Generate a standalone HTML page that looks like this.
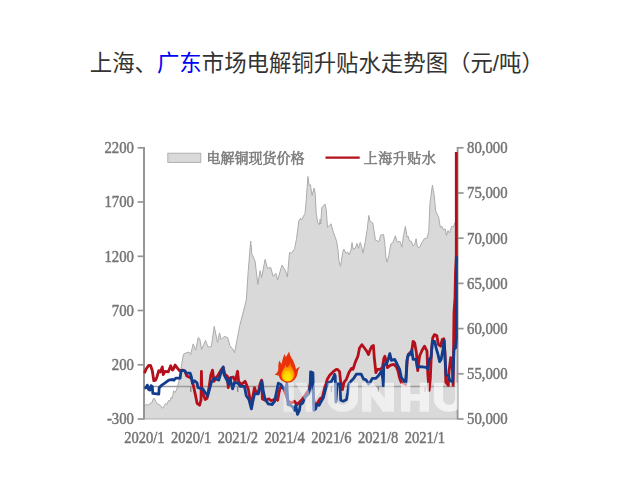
<!DOCTYPE html>
<html><head><meta charset="utf-8"><title>chart</title>
<style>
html,body{margin:0;padding:0;background:#fff;}
body{width:638px;height:489px;overflow:hidden;position:relative;font-family:"Liberation Sans",sans-serif;}
svg{position:absolute;left:0;top:0;}
.lab{font-family:"Liberation Serif",serif;font-size:15.8px;fill:#747474;stroke:#747474;stroke-width:0.45px;}
#chart{filter:blur(0.6px);}
</style></head><body>
<svg width="638" height="489" viewBox="0 0 638 489">
<defs><linearGradient id="wm" x1="0" y1="0" x2="1" y2="0"><stop offset="0" stop-color="#fff" stop-opacity="0.45"/><stop offset="0.45" stop-color="#fff" stop-opacity="0.55"/><stop offset="1" stop-color="#fff" stop-opacity="0.68"/></linearGradient><radialGradient id="fg" cx="0.48" cy="0.74" r="0.62" fx="0.48" fy="0.78"><stop offset="0" stop-color="#ffec00"/><stop offset="0.38" stop-color="#ffd800"/><stop offset="0.75" stop-color="#ff9800"/><stop offset="1" stop-color="#fa6a00"/></radialGradient><clipPath id="plotclip"><rect x="144" y="140" width="313" height="280"/></clipPath></defs>
<g id="title"><text x="89.8" y="71" font-size="22.4" fill="#333333" style="font-family:'Liberation Sans','Noto Sans CJK SC',sans-serif;">上海、<tspan fill="#0000f5">广东</tspan>市场电解铜升贴水走势图（元/吨）</text></g>
<g id="chart">
<polygon points="144.0,419.0 144.5,405.4 146.9,404.5 148.6,405.2 150.0,403.3 151.9,402.7 153.2,398.9 154.4,398.3 155.7,401.4 157.6,403.9 160.1,405.2 162.6,408.3 164.5,405.2 165.7,403.5 167.0,404.5 168.6,400.2 169.8,401.4 171.3,397.0 172.4,398.3 173.6,390.8 174.9,392.6 176.4,390.1 177.6,386.4 178.9,381.3 179.9,375.1 181.4,366.3 183.3,355.0 184.0,353.7 189.0,352.0 190.7,354.5 193.2,343.9 195.7,350.2 198.2,337.6 199.8,338.9 201.6,349.5 205.5,340.4 207.9,347.0 211.4,346.6 214.2,326.3 217.6,342.6 219.5,332.9 221.1,339.5 224.2,336.4 227.7,337.6 229.9,345.8 232.7,348.9 234.6,352.7 239.6,326.3 246.3,300.0 248.2,271.3 250.7,241.0 251.9,253.8 255.1,261.3 257.8,284.5 260.1,270.7 261.6,277.6 265.1,259.4 267.4,268.2 270.7,267.6 273.2,276.4 275.8,273.2 277.6,280.1 282.0,265.1 285.2,270.1 287.4,277.0 289.5,252.5 291.4,253.2 294.6,248.8 296.5,238.7 298.9,220.7 300.5,218.3 301.4,220.0 305.0,213.4 306.3,199.4 307.9,176.5 309.2,185.5 310.4,184.7 312.0,195.4 314.1,188.0 315.3,194.5 316.1,212.5 317.7,222.4 319.4,224.8 320.2,219.1 320.7,224.0 321.8,207.6 325.1,204.0 326.2,209.3 327.5,227.2 331.1,223.8 333.3,232.0 336.5,240.9 338.1,250.7 338.9,260.5 340.5,266.3 342.7,252.4 343.8,249.1 345.9,253.2 347.6,252.0 349.2,254.8 351.2,249.1 352.0,242.5 353.1,249.1 355.3,248.3 356.9,243.4 358.5,248.3 360.2,242.5 361.8,247.4 363.0,253.2 365.1,242.5 367.2,229.4 368.8,215.5 370.0,221.3 372.8,222.9 374.1,231.1 375.4,240.1 379.0,241.7 380.6,235.2 383.6,234.4 384.7,242.5 385.9,257.3 387.2,262.2 388.8,255.6 390.8,244.2 392.9,242.5 395.4,235.7 397.2,242.2 400.0,241.4 401.8,247.1 403.7,234.5 405.4,226.4 407.1,237.1 408.2,236.3 409.5,241.2 411.2,241.2 413.1,246.1 414.8,244.4 416.1,238.7 417.4,246.9 419.4,247.7 421.8,242.8 424.3,238.7 427.2,237.9 428.8,230.5 430.0,202.7 432.4,185.1 434.1,194.5 435.7,210.9 438.7,217.4 440.3,227.3 441.9,226.4 443.6,229.7 445.2,228.9 446.4,235.4 448.0,230.5 449.6,233.0 451.7,226.4 453.7,226.4 455.0,222.4 457.3,222.4 457.6,419.0" fill="#d9d9d9" stroke="none"/>
<polyline points="144.5,405.4 146.9,404.5 148.6,405.2 150.0,403.3 151.9,402.7 153.2,398.9 154.4,398.3 155.7,401.4 157.6,403.9 160.1,405.2 162.6,408.3 164.5,405.2 165.7,403.5 167.0,404.5 168.6,400.2 169.8,401.4 171.3,397.0 172.4,398.3 173.6,390.8 174.9,392.6 176.4,390.1 177.6,386.4 178.9,381.3 179.9,375.1 181.4,366.3 183.3,355.0 184.0,353.7 189.0,352.0 190.7,354.5 193.2,343.9 195.7,350.2 198.2,337.6 199.8,338.9 201.6,349.5 205.5,340.4 207.9,347.0 211.4,346.6 214.2,326.3 217.6,342.6 219.5,332.9 221.1,339.5 224.2,336.4 227.7,337.6 229.9,345.8 232.7,348.9 234.6,352.7 239.6,326.3 246.3,300.0 248.2,271.3 250.7,241.0 251.9,253.8 255.1,261.3 257.8,284.5 260.1,270.7 261.6,277.6 265.1,259.4 267.4,268.2 270.7,267.6 273.2,276.4 275.8,273.2 277.6,280.1 282.0,265.1 285.2,270.1 287.4,277.0 289.5,252.5 291.4,253.2 294.6,248.8 296.5,238.7 298.9,220.7 300.5,218.3 301.4,220.0 305.0,213.4 306.3,199.4 307.9,176.5 309.2,185.5 310.4,184.7 312.0,195.4 314.1,188.0 315.3,194.5 316.1,212.5 317.7,222.4 319.4,224.8 320.2,219.1 320.7,224.0 321.8,207.6 325.1,204.0 326.2,209.3 327.5,227.2 331.1,223.8 333.3,232.0 336.5,240.9 338.1,250.7 338.9,260.5 340.5,266.3 342.7,252.4 343.8,249.1 345.9,253.2 347.6,252.0 349.2,254.8 351.2,249.1 352.0,242.5 353.1,249.1 355.3,248.3 356.9,243.4 358.5,248.3 360.2,242.5 361.8,247.4 363.0,253.2 365.1,242.5 367.2,229.4 368.8,215.5 370.0,221.3 372.8,222.9 374.1,231.1 375.4,240.1 379.0,241.7 380.6,235.2 383.6,234.4 384.7,242.5 385.9,257.3 387.2,262.2 388.8,255.6 390.8,244.2 392.9,242.5 395.4,235.7 397.2,242.2 400.0,241.4 401.8,247.1 403.7,234.5 405.4,226.4 407.1,237.1 408.2,236.3 409.5,241.2 411.2,241.2 413.1,246.1 414.8,244.4 416.1,238.7 417.4,246.9 419.4,247.7 421.8,242.8 424.3,238.7 427.2,237.9 428.8,230.5 430.0,202.7 432.4,185.1 434.1,194.5 435.7,210.9 438.7,217.4 440.3,227.3 441.9,226.4 443.6,229.7 445.2,228.9 446.4,235.4 448.0,230.5 449.6,233.0 451.7,226.4 453.7,226.4 455.0,222.4 457.3,222.4" fill="none" stroke="#ababab" stroke-width="1.0" stroke-linejoin="round"/>
<path d="M144.0 386.5H457.6" stroke="#9c9c9c" stroke-width="1.6" fill="none"/>
<path d="M190.8 386.5v5.6" stroke="#858585" stroke-width="1.3" fill="none"/>
<path d="M237.7 386.5v5.6" stroke="#858585" stroke-width="1.3" fill="none"/>
<path d="M284.6 386.5v5.6" stroke="#858585" stroke-width="1.3" fill="none"/>
<path d="M331.4 386.5v5.6" stroke="#858585" stroke-width="1.3" fill="none"/>
<path d="M378.2 386.5v5.6" stroke="#858585" stroke-width="1.3" fill="none"/>
<path d="M425.1 386.5v5.6" stroke="#858585" stroke-width="1.3" fill="none"/>
<path d="M144.0 419.0H457.6" stroke="#b2b2b2" stroke-width="1.1" fill="none"/>
<path d="M144.0 147.0V419.5" stroke="#959595" stroke-width="2.0" fill="none"/>
<path d="M457.6 147.0V419.5" stroke="#959595" stroke-width="1.8" fill="none"/>
<path d="M144.0 147.8h-6.4" stroke="#959595" stroke-width="1.7"/>
<text transform="translate(134.0,153.1) scale(0.935,1)" text-anchor="end" class="lab">2200</text>
<path d="M144.0 202.0h-6.4" stroke="#959595" stroke-width="1.7"/>
<text transform="translate(134.0,207.3) scale(0.935,1)" text-anchor="end" class="lab">1700</text>
<path d="M144.0 256.3h-6.4" stroke="#959595" stroke-width="1.7"/>
<text transform="translate(134.0,261.6) scale(0.935,1)" text-anchor="end" class="lab">1200</text>
<path d="M144.0 310.5h-6.4" stroke="#959595" stroke-width="1.7"/>
<text transform="translate(134.0,315.8) scale(0.935,1)" text-anchor="end" class="lab">700</text>
<path d="M144.0 364.8h-6.4" stroke="#959595" stroke-width="1.7"/>
<text transform="translate(134.0,370.1) scale(0.935,1)" text-anchor="end" class="lab">200</text>
<path d="M144.0 419.0h-6.4" stroke="#959595" stroke-width="1.7"/>
<text transform="translate(134.0,424.3) scale(0.935,1)" text-anchor="end" class="lab">-300</text>
<path d="M457.6 147.8h6" stroke="#959595" stroke-width="1.7"/>
<text transform="translate(467.0,153.1) scale(0.935,1)" class="lab">80,000</text>
<path d="M457.6 193.0h6" stroke="#959595" stroke-width="1.7"/>
<text transform="translate(467.0,198.3) scale(0.935,1)" class="lab">75,000</text>
<path d="M457.6 238.2h6" stroke="#959595" stroke-width="1.7"/>
<text transform="translate(467.0,243.5) scale(0.935,1)" class="lab">70,000</text>
<path d="M457.6 283.4h6" stroke="#959595" stroke-width="1.7"/>
<text transform="translate(467.0,288.7) scale(0.935,1)" class="lab">65,000</text>
<path d="M457.6 328.6h6" stroke="#959595" stroke-width="1.7"/>
<text transform="translate(467.0,333.9) scale(0.935,1)" class="lab">60,000</text>
<path d="M457.6 373.8h6" stroke="#959595" stroke-width="1.7"/>
<text transform="translate(467.0,379.1) scale(0.935,1)" class="lab">55,000</text>
<path d="M457.6 419.0h6" stroke="#959595" stroke-width="1.7"/>
<text transform="translate(467.0,424.3) scale(0.935,1)" class="lab">50,000</text>
<text transform="translate(144.4,443.0) scale(0.921,1)" text-anchor="middle" class="lab">2020/1</text>
<text transform="translate(191.2,443.0) scale(0.921,1)" text-anchor="middle" class="lab">2020/1</text>
<text transform="translate(237.9,443.0) scale(0.921,1)" text-anchor="middle" class="lab">2021/2</text>
<text transform="translate(284.6,443.0) scale(0.921,1)" text-anchor="middle" class="lab">2021/4</text>
<text transform="translate(331.4,443.0) scale(0.921,1)" text-anchor="middle" class="lab">2021/6</text>
<text transform="translate(378.1,443.0) scale(0.921,1)" text-anchor="middle" class="lab">2021/8</text>
<text transform="translate(424.9,443.0) scale(0.921,1)" text-anchor="middle" class="lab">2021/1</text>
<polyline points="144.4,373.2 146.3,368.8 148.8,365.3 150.7,365.7 152.3,370.7 153.8,380.7 155.7,380.1 156.9,377.0 158.8,370.7 160.3,371.9 162.3,366.9 163.2,374.5 165.1,371.3 168.2,371.9 170.7,365.7 172.4,370.1 173.6,368.8 175.1,365.0 177.0,367.6 179.5,370.7 182.6,370.1 185.1,371.3 186.6,375.7 188.9,377.0 191.4,378.2 193.3,385.1 195.2,393.9 197.1,403.3 199.6,405.2 201.0,400.2 201.4,371.3 201.9,391.0 205.2,399.5 207.1,398.3 209.0,387.6 210.8,375.1 212.5,370.1 214.0,381.3 216.5,377.0 217.5,376.3 220.6,370.7 223.2,367.5 225.0,374.5 227.5,376.3 228.2,387.6 230.7,377.6 233.2,377.0 235.1,381.3 237.6,371.3 238.6,381.3 241.3,384.5 245.1,381.3 248.2,388.9 250.7,402.7 252.6,397.7 254.5,387.6 255.8,391.4 258.3,392.6 260.1,383.9 261.6,380.1 262.4,398.9 265.2,400.2 268.9,398.9 271.4,400.8 275.2,398.9 277.7,400.2 279.0,392.6 280.2,387.6 283.3,387.6 285.0,392.0 288.0,401.0 291.3,403.0 294.5,401.3 297.0,404.6 299.4,402.2 302.7,398.9 306.0,394.0 309.3,389.1 311.7,376.0 312.9,387.4 314.2,405.4 317.4,403.0 319.9,398.9 322.4,397.3 324.8,387.4 327.3,379.3 329.7,375.2 333.0,371.9 336.3,369.4 337.5,369.3 339.6,371.7 340.7,382.4 342.4,389.7 344.0,382.4 346.5,379.1 348.9,372.5 351.4,368.4 353.0,369.2 355.4,361.9 357.9,356.2 359.5,348.0 362.0,344.7 364.4,348.0 366.9,351.3 368.5,354.5 370.2,349.6 371.8,346.4 373.4,345.5 374.3,357.8 375.9,372.5 377.5,369.3 380.0,369.3 382.4,367.6 383.8,358.6 384.9,356.2 386.0,361.1 387.4,367.6 390.6,365.2 393.9,364.4 396.3,366.8 398.0,370.9 399.6,378.3 401.3,382.4 404.5,383.5 405.7,384.6 407.4,357.6 409.8,352.7 411.8,351.0 413.1,341.3 414.7,342.9 416.4,352.7 417.7,370.7 419.6,356.0 422.1,350.3 424.5,346.2 427.0,351.1 427.8,374.0 429.1,390.3 430.3,378.9 431.4,352.7 432.7,338.0 434.4,334.7 436.8,335.5 438.4,344.5 440.6,346.2 442.2,339.6 443.8,338.8 445.0,352.7 445.8,382.2 448.3,385.4 449.1,370.7 450.7,357.6 452.4,369.1 453.2,385.4 453.6,345.0 454.0,312.0 455.0,298.0 455.5,272.0 456.3,256.0 456.3,152.0" fill="none" stroke="#b40f1a" stroke-width="2.8" stroke-linejoin="round" stroke-linecap="butt"/>
<polyline points="144.4,388.2 146.0,387.6 147.3,385.1 148.5,389.5 150.0,390.1 151.0,385.7 152.3,386.4 152.8,393.3 158.8,394.1 159.2,387.6 161.9,385.1 165.1,382.9 168.8,380.1 172.6,379.5 174.0,380.2 175.7,378.2 180.1,378.2 181.1,370.7 184.5,370.7 186.4,373.2 190.2,373.2 191.4,377.0 192.4,383.2 194.5,380.7 197.1,382.9 197.9,387.6 202.7,388.9 205.2,392.6 207.7,395.8 209.6,388.9 211.5,382.0 214.0,378.2 217.1,379.5 218.8,380.1 220.6,373.8 223.2,366.9 224.0,374.5 227.5,381.3 228.5,383.9 230.0,378.2 232.6,388.9 234.4,382.6 238.2,383.2 240.1,386.4 244.5,386.4 246.3,395.8 248.9,399.5 251.4,408.9 252.6,402.7 254.5,393.9 258.3,393.9 260.1,387.6 262.0,381.3 263.3,391.4 265.2,399.5 268.3,403.9 272.1,404.5 274.6,401.4 276.4,392.6 278.3,383.2 280.8,384.5 283.3,388.2 285.5,389.5 286.8,383.5 288.0,404.6 290.2,405.2 292.9,407.1 294.5,410.3 295.8,405.4 297.5,414.4 299.4,410.3 300.3,404.6 302.7,403.0 305.2,397.3 308.4,394.0 310.1,387.4 310.6,371.9 312.9,372.7 313.4,392.4 313.8,410.3 315.8,408.7 316.6,404.6 319.1,405.4 320.7,402.2 323.2,398.1 325.6,389.1 328.1,382.5 331.3,381.7 333.0,378.4 334.6,374.4 335.2,376.0 335.9,402.0 337.2,384.0 340.0,384.0 340.7,400.3 343.2,401.2 346.5,399.5 347.8,392.2 348.9,384.0 351.4,380.7 353.8,378.3 356.3,374.2 361.2,374.2 363.6,379.1 366.1,379.9 368.5,384.0 370.2,382.4 372.3,378.3 375.9,378.3 378.4,375.8 381.6,370.9 382.8,379.1 383.3,385.6 383.8,364.4 386.5,364.4 388.2,359.4 389.8,353.7 391.4,360.3 394.7,359.4 396.8,363.5 399.6,369.3 401.3,377.4 403.7,380.5 405.7,383.0 406.9,360.9 408.2,354.4 410.6,354.4 411.8,350.3 413.1,359.3 416.0,359.3 417.2,367.4 420.4,366.6 426.2,367.4 428.1,369.1 429.1,359.3 431.0,357.5 432.4,341.3 434.7,341.3 436.3,348.6 438.0,354.4 439.6,361.7 441.2,359.3 442.9,349.4 444.2,340.5 445.0,357.6 446.1,374.8 448.3,375.6 449.9,380.5 452.7,381.8 454.0,349.4 455.6,347.8 456.4,338.0 456.4,256.5" fill="none" stroke="#123c8c" stroke-width="2.8" stroke-linejoin="round" stroke-linecap="butt"/>
<rect x="167.8" y="153.2" width="33" height="9.2" fill="#d9d9d9" stroke="#ababab" stroke-width="0.9"/>
<text x="206.5" y="162.6" font-size="14" fill="#7c7c7c" stroke="#7c7c7c" stroke-width="0.55" style="font-family:'Liberation Serif','Noto Serif CJK SC',serif;">电解铜现货价格</text>
<path d="M325.5 157.6H359.7" stroke="#b40f1a" stroke-width="2.4"/>
<text x="363.8" y="162.6" font-size="14" letter-spacing="0.5" fill="#7c7c7c" stroke="#7c7c7c" stroke-width="0.55" style="font-family:'Liberation Serif','Noto Serif CJK SC',serif;">上海升贴水</text>
<mask id="wmmask" maskUnits="userSpaceOnUse" x="280" y="375" width="177.6" height="45"><rect x="280" y="375" width="180" height="45" fill="#000"/><path fill="#fff" d="M283.6 382.8h10.2v29.0h-10.2zM295.4 382.8L306.2 382.8L310.3 396.3L314.4 382.8L325.2 382.8L314.9 401.3L314.9 411.8L305.6 411.8L305.6 401.3zM327.5 382.8V399.3A15.2 12.5 0 0 0 358.0 399.3V382.8H348.7V399.3A5.9 5.5 0 0 1 336.8 399.3V382.8zM362.0 382.8h9.3v29.0h-9.3zM384.7 382.8h9.3v29.0h-9.3zM362.0 382.8L373.2 382.8L394.0 411.8L382.8 411.8zM401.0 382.8h9.3v29.0h-9.3zM419.7 382.8h9.3v29.0h-9.3zM401.0 394.0h28.0v6.8h-28.0zM433.8 382.8V399.3A15.3 12.5 0 0 0 464.4 399.3V382.8H455.1V399.3A6.0 5.5 0 0 1 443.1 399.3V382.8z"/></mask>
<rect x="280" y="375" width="177.6" height="45" fill="url(#wm)" mask="url(#wmmask)"/>
<g transform="translate(268,345) scale(0.09195)"><path fill="#e8320c" d="M230,70C236,120 268,150 285,195C298,232 304,252 304,263C318,249 331,240 348,238C330,255 325,290 318,320C305,370 270,405 215,410C160,408 125,375 118,335C105,335 90,330 72,322C100,305 112,285 112,255C110,215 115,190 125,168C135,190 140,200 148,205C155,165 165,130 180,98C185,115 190,125 195,130C205,110 220,90 230,70Z"/><path fill="url(#fg)" d="M241,192C250,230 274,258 286,300C296,352 262,398 216,398C168,398 136,360 147,308C152,284 168,268 179,248C182,238 184,224 186,208C195,228 200,238 208,246C220,233 233,213 241,192Z"/></g>
</g>
</svg>
</body></html>
